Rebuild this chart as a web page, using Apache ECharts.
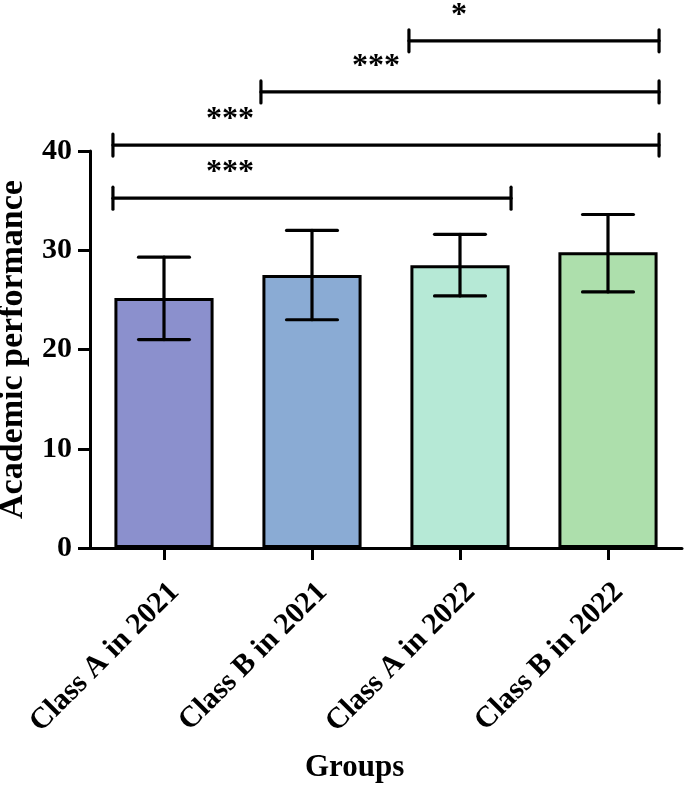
<!DOCTYPE html>
<html>
<head>
<meta charset="utf-8">
<script src="https://cdn.jsdelivr.net/npm/echarts@6/dist/echarts.min.js"></script>
<style>html,body{margin:0;padding:0;background:#fff;}#c{width:685px;height:786px;}</style>
</head>
<body>
<div id="c"></div>
<script>
// ---- data ----
var categories = ['Class A in 2021', 'Class B in 2021', 'Class A in 2022', 'Class B in 2022'];
var means = [25.2, 27.5, 28.5, 29.8];
var errUpper = [29.3, 32.0, 31.6, 33.6];
var errLower = [21.0, 23.0, 25.4, 25.8];
var barColors = ['#8b90cd', '#8aabd4', '#b6e9d6', '#addfac'];
var yTicks = [0, 10, 20, 30, 40];
// significance comparisons
var compFrom = [0, 0, 1, 2];
var compTo = [2, 3, 3, 3];
var compY = [35.25, 40.6, 45.95, 51.1];
var compLabels = ['***', '***', '***', '*'];

// ---- layout constants ----
var FONT = '"Liberation Serif", "Times New Roman", serif';
var starOffsetPx = [117, 117, 115, 50];

var chart = echarts.init(document.getElementById('c'), null, {renderer: 'canvas'});

var option = {
  animation: false,
  backgroundColor: '#ffffff',
  grid: {left: 90, right: 3, top: 151, bottom: 238, containLabel: false, outerBoundsMode: 'none'},
  xAxis: {
    type: 'category',
    data: categories,
    axisLine: {show: true, lineStyle: {color: '#000', width: 3}},
    axisTick: {show: true, alignWithLabel: true, length: 12, lineStyle: {color: '#000', width: 3}},
    axisLabel: {
      interval: 0, rotate: 45, margin: 29, verticalAlign: 'top',
      color: '#000', fontFamily: FONT, fontWeight: 'bold', fontSize: 30
    },
    splitLine: {show: false}
  },
  yAxis: {
    type: 'value',
    min: yTicks[0], max: yTicks[yTicks.length - 1], interval: 10,
    name: 'Academic performance',
    nameLocation: 'middle',
    nameGap: 60,
    nameTextStyle: {color: '#000', fontFamily: FONT, fontWeight: 'bold', fontSize: 34},
    axisLine: {show: true, lineStyle: {color: '#000', width: 3}},
    axisTick: {show: true, length: 12, lineStyle: {color: '#000', width: 3}},
    axisLabel: {margin: 18, color: '#000', fontFamily: FONT, fontWeight: 'bold', fontSize: 30},
    splitLine: {show: false}
  },
  graphic: [{
    type: 'text',
    left: 305, top: 752,
    style: {text: 'Groups', fill: '#000', font: 'bold 31px ' + FONT}
  }],
  series: [
    {
      type: 'bar',
      barWidth: '67%',
      data: means.map(function (v, i) {
        return {value: v, itemStyle: {color: barColors[i], borderColor: '#000', borderWidth: 3}};
      }),
      z: 2
    },
    {
      type: 'custom',
      z: 3,
      data: means.map(function (v, i) { return [i, errLower[i], errUpper[i]]; }),
      renderItem: function (params, api) {
        var i = api.value(0);
        var lo = api.coord([i, api.value(1)]);
        var hi = api.coord([i, api.value(2)]);
        var band = api.size([1, 0])[0];
        var half = band * 0.172;
        var st = {stroke: '#000', lineWidth: 3.2, lineCap: 'round'};
        return {
          type: 'group',
          children: [
            {type: 'line', shape: {x1: hi[0], y1: hi[1], x2: lo[0], y2: lo[1]}, style: st},
            {type: 'line', shape: {x1: hi[0] - half, y1: hi[1], x2: hi[0] + half, y2: hi[1]}, style: st},
            {type: 'line', shape: {x1: lo[0] - half, y1: lo[1], x2: lo[0] + half, y2: lo[1]}, style: st}
          ]
        };
      }
    },
    {
      type: 'custom',
      z: 4,
      clip: false,
      data: compFrom.map(function (f, k) { return [f, compTo[k], compY[k], k]; }),
      renderItem: function (params, api) {
        var f = api.value(0), t = api.value(1), yv = api.value(2), k = api.value(3);
        var band = api.size([1, 0])[0];
        var p1 = api.coord([f, yv]);
        var p2 = api.coord([t, yv]);
        var x1 = p1[0] - band * 0.345;
        var x2 = p2[0] + band * 0.345;
        var y = p1[1];
        var st = {stroke: '#000', lineWidth: 3.2, lineCap: 'round'};
        return {
          type: 'group',
          children: [
            {type: 'line', shape: {x1: x1, y1: y, x2: x2, y2: y}, style: st},
            {type: 'line', shape: {x1: x1, y1: y - 11, x2: x1, y2: y + 11}, style: st},
            {type: 'line', shape: {x1: x2, y1: y - 11, x2: x2, y2: y + 11}, style: st},
            {type: 'text', x: x1 + starOffsetPx[k], y: y - 25,
             style: {text: compLabels[k], fill: '#000', font: 'bold 32px ' + FONT,
                     align: 'center', verticalAlign: 'middle'}}
          ]
        };
      }
    }
  ]
};
chart.setOption(option);
</script>
</body>
</html>
